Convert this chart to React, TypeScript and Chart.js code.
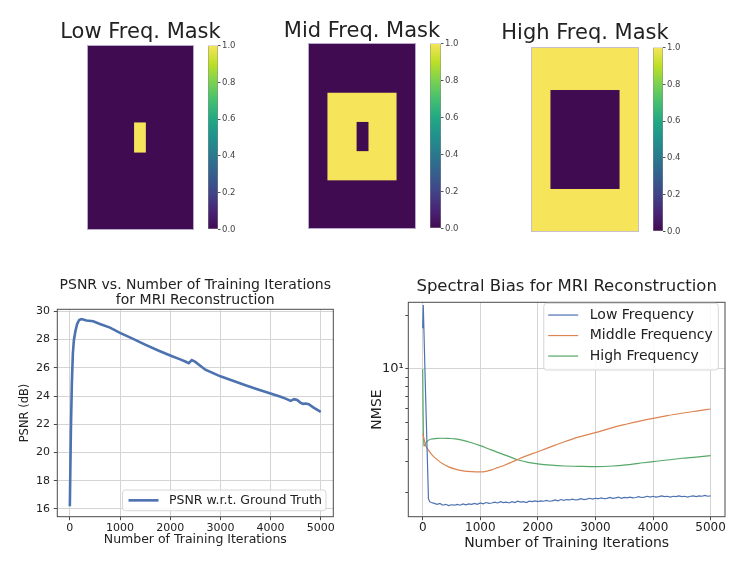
import React, { useEffect, useRef } from 'react';
import { Chart, registerables } from 'chart.js';

Chart.register(...registerables);
Chart.defaults.font.family = "'DejaVu Sans', 'Liberation Sans', sans-serif";
Chart.defaults.color = '#222222';

// ---------------- DATA ----------------
const maskCols = 100;
const maskRows = 172;
// rectangles: [colStart, colEnd, rowStart, rowEnd, value]
const lowMaskBase = 0;
const lowMaskRects = [[44, 55, 72, 100, 1]];
const midMaskBase = 0;
const midMaskRects = [[18, 82, 46, 127, 1], [45, 56, 73, 100, 0]];
const highMaskBase = 1;
const highMaskRects = [[18, 82, 40, 132, 0]];
const colorbarRange = [0, 1];
const colorbarTicks = [0, 0.2, 0.4, 0.6, 0.8, 1.0];

const iterationTicks = [0, 1000, 2000, 3000, 4000, 5000];
const psnrTicks = [16, 18, 20, 22, 24, 26, 28, 30];
const psnrIterations = [0, 20, 40, 60, 80, 113, 146, 186, 233, 332, 465, 600, 800, 1000, 1250, 1500, 1750, 2000, 2200, 2300, 2370, 2430, 2500, 2700, 3000, 3250, 3500, 3750, 4000, 4200, 4300, 4400, 4470, 4530, 4600, 4650, 4700, 4760, 4850, 5000];
const psnrValues = [16.19, 21.4, 24.9, 27.0, 27.94, 28.64, 29.11, 29.39, 29.46, 29.35, 29.3, 29.11, 28.85, 28.48, 28.07, 27.65, 27.25, 26.88, 26.6, 26.45, 26.33, 26.55, 26.42, 25.87, 25.4, 25.08, 24.76, 24.47, 24.18, 23.95, 23.82, 23.66, 23.78, 23.72, 23.52, 23.45, 23.47, 23.42, 23.2, 22.88];

const nmseTicks = [2, 3, 4, 5, 6, 7, 8, 9, 10, 20];
const lowFreqIterations = [0, 10, 50, 100, 120, 150, 200, 250, 300, 350, 400, 450, 500, 550, 600, 650, 700, 750, 800, 850, 900, 950, 1000, 1050, 1100, 1150, 1200, 1250, 1300, 1350, 1400, 1450, 1500, 1550, 1600, 1650, 1700, 1750, 1800, 1850, 1900, 1950, 2000, 2050, 2100, 2150, 2200, 2250, 2300, 2350, 2400, 2450, 2500, 2550, 2600, 2650, 2700, 2750, 2800, 2850, 2900, 2950, 3000, 3050, 3100, 3150, 3200, 3250, 3300, 3350, 3400, 3450, 3500, 3550, 3600, 3650, 3700, 3750, 3800, 3850, 3900, 3950, 4000, 4050, 4100, 4150, 4200, 4250, 4300, 4350, 4400, 4450, 4500, 4550, 4600, 4650, 4700, 4750, 4800, 4850, 4900, 4950, 5000];
const lowFreqNmse = [17.0, 23.0, 7.2, 1.85, 1.78, 1.76, 1.74, 1.72, 1.74, 1.70, 1.72, 1.69, 1.71, 1.70, 1.72, 1.70, 1.73, 1.71, 1.73, 1.72, 1.74, 1.72, 1.75, 1.73, 1.76, 1.74, 1.75, 1.77, 1.75, 1.78, 1.76, 1.77, 1.75, 1.78, 1.76, 1.79, 1.77, 1.78, 1.76, 1.79, 1.78, 1.80, 1.78, 1.80, 1.79, 1.81, 1.79, 1.80, 1.82, 1.80, 1.83, 1.81, 1.83, 1.82, 1.84, 1.82, 1.83, 1.85, 1.83, 1.84, 1.86, 1.84, 1.86, 1.85, 1.87, 1.85, 1.86, 1.88, 1.86, 1.87, 1.89, 1.86, 1.88, 1.87, 1.89, 1.87, 1.88, 1.90, 1.88, 1.89, 1.91, 1.89, 1.91, 1.89, 1.90, 1.92, 1.90, 1.91, 1.89, 1.91, 1.90, 1.92, 1.90, 1.91, 1.89, 1.91, 1.92, 1.90, 1.92, 1.91, 1.93, 1.91, 1.92];
const midFreqIterations = [0, 15, 47, 100, 162, 250, 334, 450, 563, 700, 850, 1000, 1100, 1200, 1300, 1430, 1550, 1660, 1800, 2000, 2150, 2290, 2460, 2700, 3000, 3250, 3530, 3750, 4000, 4250, 4500, 4750, 5000];
const midFreqNmse = [4.3, 4.15, 3.72, 3.48, 3.27, 3.08, 2.93, 2.8, 2.72, 2.66, 2.63, 2.62, 2.64, 2.69, 2.77, 2.87, 2.98, 3.09, 3.23, 3.41, 3.56, 3.7, 3.88, 4.12, 4.37, 4.62, 4.87, 5.06, 5.26, 5.45, 5.62, 5.78, 5.94];
const highFreqIterations = [0, 17, 60, 133, 250, 334, 450, 563, 700, 850, 1000, 1150, 1300, 1480, 1660, 1830, 2000, 2230, 2460, 2700, 3000, 3300, 3530, 3750, 4000, 4250, 4500, 4750, 5000];
const highFreqNmse = [10.0, 3.66, 3.85, 4.01, 4.05, 4.06, 4.05, 4.03, 3.95, 3.83, 3.69, 3.53, 3.38, 3.22, 3.06, 2.97, 2.91, 2.86, 2.83, 2.82, 2.81, 2.83, 2.87, 2.93, 3.00, 3.06, 3.13, 3.18, 3.24];

// ---------------- STYLE ----------------
const VIRIDIS = ['#410b52', '#482475', '#414487', '#355f8d', '#2a788e', '#21918c', '#22a884', '#44bf70', '#7ad151', '#bddf26', '#f6e55a'];
const BLUE = '#4c72b0';
const ORANGE = '#dd8452';
const GREEN = '#55a868';
const GRID = '#d4d4d4';
const SPINE = '#4a4a4a';
const TEXT = '#222222';

const pts = (xs: number[], ys: number[]) => xs.map((x, i) => ({ x, y: ys[i] }));

const framePlugin = {
  id: 'frame',
  afterDatasetsDraw(chart: any) {
    const { ctx, chartArea: a } = chart;
    ctx.save();
    ctx.strokeStyle = SPINE;
    ctx.lineWidth = 1;
    ctx.strokeRect(a.left, a.top, a.right - a.left, a.bottom - a.top);
    ctx.restore();
  },
};

const legendBoxPlugin = {
  id: 'legendBox',
  afterDatasetsDraw(chart: any, _args: any, o: any) {
    if (!o || !o.enabled) return;
    const { ctx, chartArea } = chart;
    const items = chart.data.datasets.map((d: any) => ({ label: d.label, color: d.borderColor, width: d.borderWidth }));
    ctx.save();
    ctx.font = `${o.fontSize}px 'DejaVu Sans', sans-serif`;
    const textW = Math.max(...items.map((i: any) => ctx.measureText(i.label).width));
    const w = o.padL + o.sample + o.gap + textW + o.padR;
    const h = o.padT + items.length * o.rowH + o.padB;
    const x0 = chartArea.right - o.dx - w;
    const y0 = o.corner === 'top' ? chartArea.top + o.dy : chartArea.bottom - o.dy - h;
    const r = 3;
    ctx.beginPath();
    ctx.moveTo(x0 + r, y0);
    ctx.lineTo(x0 + w - r, y0);
    ctx.quadraticCurveTo(x0 + w, y0, x0 + w, y0 + r);
    ctx.lineTo(x0 + w, y0 + h - r);
    ctx.quadraticCurveTo(x0 + w, y0 + h, x0 + w - r, y0 + h);
    ctx.lineTo(x0 + r, y0 + h);
    ctx.quadraticCurveTo(x0, y0 + h, x0, y0 + h - r);
    ctx.lineTo(x0, y0 + r);
    ctx.quadraticCurveTo(x0, y0, x0 + r, y0);
    ctx.closePath();
    ctx.fillStyle = 'rgba(255,255,255,0.85)';
    ctx.fill();
    ctx.strokeStyle = '#d6d6d6';
    ctx.lineWidth = 1;
    ctx.stroke();
    items.forEach((it: any, i: number) => {
      const cy = y0 + o.padT + o.rowH * (i + 0.5);
      ctx.beginPath();
      ctx.strokeStyle = it.color;
      ctx.lineWidth = it.width;
      ctx.moveTo(x0 + o.padL, cy);
      ctx.lineTo(x0 + o.padL + o.sample, cy);
      ctx.stroke();
      ctx.fillStyle = TEXT;
      ctx.textBaseline = 'middle';
      ctx.textAlign = 'left';
      ctx.fillText(it.label, x0 + o.padL + o.sample + o.gap, cy);
    });
    ctx.restore();
  },
};

const maskPlugin = {
  id: 'maskImage',
  beforeDatasetsDraw(chart: any, _args: any, o: any) {
    if (!o || !o.rects) return;
    const { ctx, scales } = chart;
    const x = scales.x;
    const y = scales.y;
    const color = (v: number) => (v >= 0.5 ? VIRIDIS[VIRIDIS.length - 1] : VIRIDIS[0]);
    const rect = (c0: number, c1: number, r0: number, r1: number, v: number) => {
      const px0 = x.getPixelForValue(c0);
      const px1 = x.getPixelForValue(c1);
      const py0 = y.getPixelForValue(r0);
      const py1 = y.getPixelForValue(r1);
      ctx.fillStyle = color(v);
      ctx.fillRect(Math.min(px0, px1), Math.min(py0, py1), Math.abs(px1 - px0), Math.abs(py1 - py0));
    };
    ctx.save();
    rect(0, maskCols, 0, maskRows, o.base);
    o.rects.forEach((r: number[]) => rect(r[0], r[1], r[2], r[3], r[4]));
    const a = chart.chartArea;
    ctx.strokeStyle = 'rgba(196,186,214,0.9)';
    ctx.lineWidth = 1;
    ctx.strokeRect(a.left + 0.5, a.top + 0.5, a.right - a.left - 1, a.bottom - a.top - 1);
    ctx.restore();
  },
};

const baseOptions = {
  responsive: false,
  animation: false,
  events: [],
};

function maskConfig(title: string, base: number, rects: number[][], titleTop: number, titleBottom: number) {
  const hiddenAxis = (position: string, min: number, max: number, reverse: boolean) => ({
    type: 'linear',
    position,
    min,
    max,
    reverse,
    display: true,
    ticks: { display: false },
    grid: { display: false, drawTicks: false },
    border: { display: false },
    afterFit: (s: any) => { s.width = 45; },
  });
  return {
    type: 'scatter',
    data: { datasets: [] },
    options: {
      ...baseOptions,
      layout: { padding: 0, autoPadding: false },
      plugins: {
        legend: { display: false },
        tooltip: { enabled: false },
        title: {
          display: true,
          text: title,
          color: TEXT,
          font: { size: 21, weight: 'normal', lineHeight: '21px' },
          padding: { top: titleTop, bottom: titleBottom },
        },
        maskImage: { base, rects },
      },
      scales: {
        x: { type: 'linear', min: 0, max: maskCols, display: false },
        y: hiddenAxis('left', 0, maskRows, true),
        yR: hiddenAxis('right', 0, 1, false),
      },
    },
    plugins: [maskPlugin],
  };
}

function colorbarConfig() {
  return {
    type: 'bar',
    data: {
      labels: [''],
      datasets: [
        {
          data: [colorbarRange],
          backgroundColor: (c: any) => {
            const a = c.chart.chartArea;
            if (!a) return VIRIDIS[0];
            const g = c.chart.ctx.createLinearGradient(0, a.bottom, 0, a.top);
            VIRIDIS.forEach((col, i) => g.addColorStop(i / (VIRIDIS.length - 1), col));
            return g;
          },
          borderColor: '#8a8a8a',
          borderWidth: 0.8,
          borderSkipped: false,
          barPercentage: 1,
          categoryPercentage: 1,
        },
      ],
    },
    options: {
      ...baseOptions,
      layout: { padding: { top: 6, bottom: 6, left: 0, right: 0 }, autoPadding: false },
      plugins: { legend: { display: false }, tooltip: { enabled: false }, title: { display: false } },
      scales: {
        x: { display: false },
        y: {
          position: 'right',
          min: colorbarRange[0],
          max: colorbarRange[1],
          afterBuildTicks: (s: any) => { s.ticks = colorbarTicks.map((v) => ({ value: v })); },
          ticks: { callback: (v: any) => Number(v).toFixed(1), font: { size: 8.5 }, padding: 1.5, color: '#444' },
          grid: { drawOnChartArea: false, tickLength: 2.5, tickColor: '#555' },
          border: { display: false },
          afterFit: (s: any) => { s.width = 26; },
        },
      },
    },
  };
}

function psnrConfig() {
  return {
    type: 'line',
    data: {
      datasets: [
        {
          label: 'PSNR w.r.t. Ground Truth',
          data: pts(psnrIterations, psnrValues),
          borderColor: BLUE,
          borderWidth: 2.6,
          pointRadius: 0,
          tension: 0,
        },
      ],
    },
    options: {
      ...baseOptions,
      layout: { padding: { left: 0, right: 26.7, top: 0, bottom: 0 }, autoPadding: false },
      plugins: {
        legend: { display: false },
        tooltip: { enabled: false },
        title: {
          display: true,
          fullSize: false,
          text: ['PSNR vs. Number of Training Iterations', 'for MRI Reconstruction'],
          color: TEXT,
          font: { size: 14, weight: 'normal', lineHeight: '15px' },
          padding: { top: 9.5, bottom: 1.8 },
        },
        legendBox: { enabled: true, corner: 'bottom', dx: 7.3, dy: 6, fontSize: 12.5, rowH: 20.7, padT: 0, padB: 0, padL: 6, sample: 30, gap: 10.5, padR: 4 },
      },
      scales: {
        x: {
          type: 'linear',
          min: -250,
          max: 5250,
          afterBuildTicks: (s: any) => { s.ticks = iterationTicks.map((v) => ({ value: v })); },
          afterFit: (s: any) => { s.height = 43.3; },
          ticks: { callback: (v: any) => String(v), font: { size: 11 }, padding: 1, autoSkip: false, maxRotation: 0, color: TEXT },
          grid: { color: GRID, lineWidth: 1, tickLength: 3.5, tickColor: SPINE },
          border: { display: false },
          title: { display: true, text: 'Number of Training Iterations', color: TEXT, font: { size: 12.5 }, padding: { top: 0, bottom: 12.5 } },
        },
        y: {
          type: 'linear',
          min: 15.45,
          max: 30.15,
          afterBuildTicks: (s: any) => { s.ticks = psnrTicks.map((v) => ({ value: v })); },
          afterFit: (s: any) => { s.width = 57.3; },
          ticks: { callback: (v: any) => String(v), font: { size: 11 }, padding: 3.8, autoSkip: false, color: TEXT },
          grid: { color: GRID, lineWidth: 1, tickLength: 3.5, tickColor: SPINE },
          border: { display: false },
          title: { display: true, text: 'PSNR (dB)', color: TEXT, font: { size: 11.5 }, padding: { top: 18.1, bottom: 0 } },
        },
      },
    },
    plugins: [framePlugin, legendBoxPlugin],
  };
}

function nmseConfig() {
  const line = (label: string, xs: number[], ys: number[], color: string, smooth: boolean) => ({
    label,
    data: pts(xs, ys),
    borderColor: color,
    borderWidth: 1.2,
    pointRadius: 0,
    tension: 0,
    cubicInterpolationMode: smooth ? 'monotone' : 'default',
  });
  return {
    type: 'line',
    data: {
      datasets: [
        line('Low Frequency', lowFreqIterations, lowFreqNmse, BLUE, false),
        line('Middle Frequency', midFreqIterations, midFreqNmse, ORANGE, true),
        line('High Frequency', highFreqIterations, highFreqNmse, GREEN, true),
      ],
    },
    options: {
      ...baseOptions,
      layout: { padding: { left: 0, right: 22, top: 0, bottom: 0 }, autoPadding: false },
      plugins: {
        legend: { display: false },
        tooltip: { enabled: false },
        title: {
          display: true,
          fullSize: false,
          text: 'Spectral Bias for MRI Reconstruction',
          color: TEXT,
          font: { size: 16.5, weight: 'normal', lineHeight: '16.5px' },
          padding: { top: 10.45, bottom: 7.35 },
        },
        legendBox: { enabled: true, corner: 'top', dx: 6.7, dy: 1, fontSize: 14, rowH: 20.5, padT: 1.5, padB: 3.7, padL: 4.4, sample: 30, gap: 11.6, padR: 5.5 },
      },
      scales: {
        x: {
          type: 'linear',
          min: -250,
          max: 5250,
          afterBuildTicks: (s: any) => { s.ticks = iterationTicks.map((v) => ({ value: v })); },
          afterFit: (s: any) => { s.height = 43.3; },
          ticks: { callback: (v: any) => String(v), font: { size: 12 }, padding: 0.9, autoSkip: false, maxRotation: 0, color: TEXT },
          grid: { color: GRID, lineWidth: 1, tickLength: 3.5, tickColor: SPINE },
          border: { display: false },
          title: { display: true, text: 'Number of Training Iterations', color: TEXT, font: { size: 14 }, padding: { top: 0, bottom: 8.3 } },
        },
        y: {
          type: 'logarithmic',
          min: 1.464,
          max: 23.8,
          afterBuildTicks: (s: any) => { s.ticks = nmseTicks.map((v) => ({ value: v })); },
          afterFit: (s: any) => { s.width = 46.3; },
          ticks: { callback: (v: any) => (Math.abs(Number(v) - 10) < 1e-9 ? '10¹' : ''), font: { size: 13 }, padding: 1.5, autoSkip: false, color: TEXT },
          grid: {
            color: (c: any) => (c.tick && Math.abs(c.tick.value - 10) < 1e-9 ? GRID : 'rgba(0,0,0,0)'),
            lineWidth: 1,
            tickLength: 3,
            tickColor: SPINE,
          },
          border: { display: false },
          title: { display: true, text: 'NMSE', color: TEXT, font: { size: 14 }, padding: { top: 6.6, bottom: 0 } },
        },
      },
    },
    plugins: [framePlugin, legendBoxPlugin],
  };
}

function ChartBox({ left, top, width, height, make }: { left: number; top: number; width: number; height: number; make: () => any }) {
  const ref = useRef<HTMLCanvasElement>(null);
  useEffect(() => {
    const chart = new Chart(ref.current as HTMLCanvasElement, make());
    return () => chart.destroy();
  }, []);
  return (
    <canvas
      ref={ref}
      width={width}
      height={height}
      style={{ position: 'absolute', left, top, width, height, display: 'block' }}
    />
  );
}

export default function App() {
  return (
    <div style={{ position: 'fixed', left: 0, top: 0, width: 747, height: 571, background: '#ffffff', overflow: 'hidden' }}>
      <ChartBox left={42} top={10} width={197} height={220} make={() => maskConfig('Low Freq. Mask', lowMaskBase, lowMaskRects, 12.5, 1.5)} />
      <ChartBox left={208} top={39} width={36} height={197} make={colorbarConfig} />
      <ChartBox left={263} top={10} width={198} height={219} make={() => maskConfig('Mid Freq. Mask', midMaskBase, midMaskRects, 11.5, 0.5)} />
      <ChartBox left={430} top={37} width={37} height={198} make={colorbarConfig} />
      <ChartBox left={486} top={10} width={198} height={222} make={() => maskConfig('High Freq. Mask', highMaskBase, highMaskRects, 13.5, 2.5)} />
      <ChartBox left={653} top={41} width={36} height={197} make={colorbarConfig} />
      <ChartBox left={0} top={268} width={360} height={292} make={psnrConfig} />
      <ChartBox left={362} top={268} width={385} height={292} make={nmseConfig} />
    </div>
  );
}
